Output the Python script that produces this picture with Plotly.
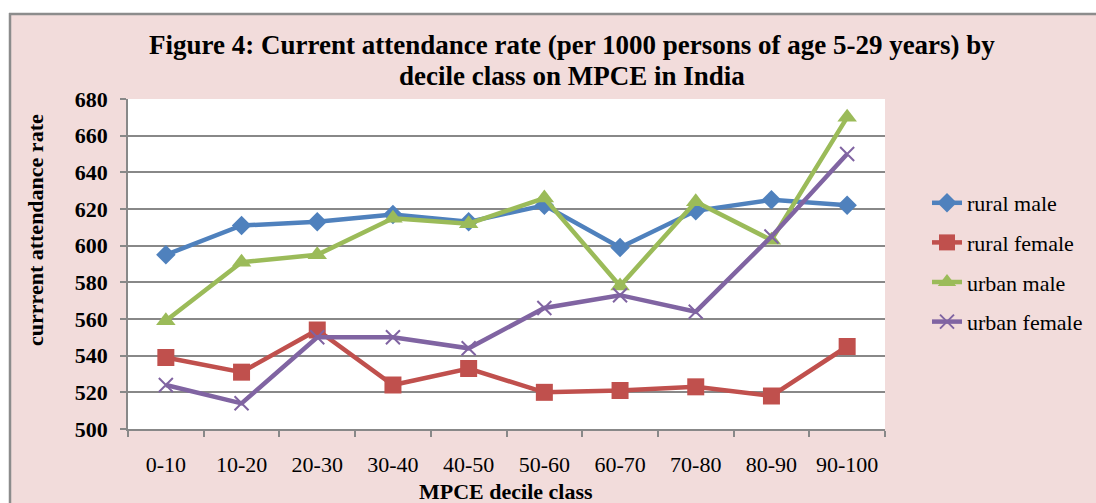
import plotly.graph_objects as go

categories = ["0-10", "10-20", "20-30", "30-40", "40-50", "50-60", "60-70", "70-80", "80-90", "90-100"]
rural_male = [595, 611, 613, 617, 613, 622, 599, 619, 625, 622]
rural_female = [539, 531, 554, 524, 533, 520, 521, 523, 518, 545]
urban_male = [559, 591, 595, 615, 612, 626, 578, 624, 603, 670]
urban_female = [524, 514, 550, 550, 544, 566, 573, 564, 605, 650]
y_ticks = [500, 520, 540, 560, 580, 600, 620, 640, 660, 680]

FONT = "Liberation Serif"
W, H = 1096, 503
L, R, T, B = 128, 211, 99, 74
PW, PH = W - L - R, H - T - B


def px(x):
    return (x - L) / PW


def py(y):
    return (H - B - y) / PH


series = [
    ("rural male", rural_male, "#4F81BD", "diamond", 15, None),
    ("rural female", rural_female, "#C0504D", "square", 17, None),
    ("urban male", urban_male, "#9BBB59", "triangle-up", 17, None),
    ("urban female", urban_female, "#8064A2", "x-thin", 14, 2),
]

fig = go.Figure()
for i, (name, vals, color, sym, size, lw) in enumerate(series):
    marker = dict(symbol=sym, size=size, color=color)
    if lw:
        marker["line"] = dict(color=color, width=lw)
    else:
        marker["line"] = dict(width=0)
    fig.add_trace(go.Scatter(
        x=categories, y=vals, name=name, mode="lines+markers",
        line=dict(color=color, width=4.5), marker=marker,
        legendgroup=f"g{i}",
    ))

grid = "#888888"
fig.update_layout(
    width=W, height=H,
    margin=dict(l=L, r=R, t=T, b=B, autoexpand=False),
    paper_bgcolor="#F2DCDB",
    plot_bgcolor="white",
    font=dict(family=FONT, size=22, color="black"),
    xaxis=dict(
        type="category", range=[-0.5, 9.5],
        showline=True, linecolor=grid, linewidth=1.5,
        ticks="outside", tickson="boundaries", ticklen=6, tickcolor=grid, tickwidth=1.5,
        showgrid=False, tickfont=dict(family=FONT, size=22),
        ticklabelstandoff=15,
    ),
    yaxis=dict(
        range=[500, 680], tickvals=y_ticks, ticktext=[str(v) for v in y_ticks],
        showline=True, linecolor=grid, linewidth=1.5,
        ticks="outside", ticklen=6, tickcolor=grid, tickwidth=1.5,
        showgrid=True, gridcolor=grid, gridwidth=1.5, zeroline=False,
        tickfont=dict(family=FONT, size=22, weight="bold"),
        ticklabelstandoff=8,
    ),
    legend=dict(
        x=px(927), y=py(182), xanchor="left", yanchor="top",
        font=dict(family=FONT, size=22), bgcolor="rgba(0,0,0,0)",
        tracegroupgap=8, traceorder="grouped",
    ),
    shapes=[
        dict(type="rect", xref="paper", yref="paper", x0=px(0), x1=px(W), y0=py(0), y1=py(13),
             fillcolor="white", line=dict(width=0), layer="above"),
        dict(type="rect", xref="paper", yref="paper", x0=px(0), x1=px(9), y0=py(0), y1=py(H),
             fillcolor="white", line=dict(width=0), layer="above"),
        dict(type="line", xref="paper", yref="paper", x0=px(9), x1=px(W), y0=py(14), y1=py(14),
             line=dict(color="#8C8C8C", width=2.5), layer="above"),
        dict(type="line", xref="paper", yref="paper", x0=px(10), x1=px(10), y0=py(13), y1=py(H),
             line=dict(color="#8C8C8C", width=2.5), layer="above"),
    ],
    annotations=[
        dict(text="Figure 4: Current attendance rate (per 1000 persons of age 5-29 years) by",
             xref="paper", yref="paper", x=px(572), y=py(45), xanchor="center", yanchor="middle",
             showarrow=False, font=dict(family=FONT, size=27, weight="bold")),
        dict(text="decile class on MPCE in India",
             xref="paper", yref="paper", x=px(572), y=py(76), xanchor="center", yanchor="middle",
             showarrow=False, font=dict(family=FONT, size=27, weight="bold")),
        dict(text="currrent attendance rate", textangle=-90, xref="paper", yref="paper",
             x=px(35), y=py(230), xanchor="center", yanchor="middle", showarrow=False,
             font=dict(family=FONT, size=22, weight="bold")),
        dict(text="MPCE decile class", xref="paper", yref="paper",
             x=px(506), y=py(491), xanchor="center", yanchor="middle", showarrow=False,
             font=dict(family=FONT, size=22, weight="bold")),
    ],
)

fig.write_html(
    "out.html",
    config={"displayModeBar": False},
    post_script="document.body.style.margin='0';document.body.style.padding='0';",
)
